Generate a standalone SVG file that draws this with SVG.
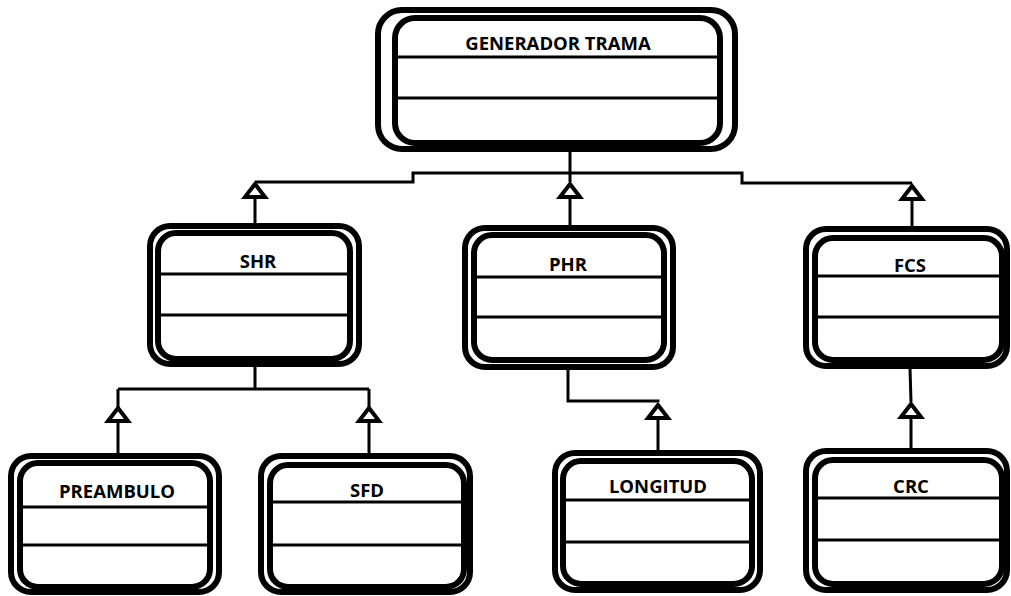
<svg xmlns="http://www.w3.org/2000/svg" xmlns:xlink="http://www.w3.org/1999/xlink" width="1011" height="596" viewBox="0 0 1011 596">
  <style>
    .outer { fill: #fff; stroke: #000; stroke-width: 6; }
    .inner { fill: #fff; stroke: #000; stroke-width: 6; }
    .div { stroke: #000; stroke-width: 3; }
    .wire { fill: none; stroke: #000; stroke-width: 3; }
    .lbl { font-family: "Open Sans", "Liberation Sans", sans-serif; font-weight: bold; font-size: 18.5px; fill: #000; text-anchor: middle; }
  </style>
  <defs>
    <!-- hollow generalization head, apex at origin -->
    <path id="head" d="M0,3 L10,16 L-10,16 Z" fill="#fff" stroke="#000" stroke-width="4"/>
  </defs>

  <rect width="1011" height="596" fill="#fff"/>

  <!-- connectors -->
  <g id="connectors">
    <path class="wire" d="M570,152 V182"/>
    <path class="wire" d="M255,182 H413 V173 H742 V183 H912"/>
    <path class="wire" d="M255,198 V224"/>
    <path class="wire" d="M570,198 V226"/>
    <path class="wire" d="M912,199 V227"/>
    <path class="wire" d="M255,366 V389 M118,389 H369 M118,389 V407 M369,389 V407"/>
    <path class="wire" d="M118,422 V454 M369,422 V454"/>
    <path class="wire" d="M568,369 V401 H658 V402"/>
    <path class="wire" d="M658,418 V451"/>
    <path class="wire" d="M910,368 L911,402"/>
    <path class="wire" d="M911,418 V449"/>
    <use xlink:href="#head" x="255" y="181"/>
    <use xlink:href="#head" x="570" y="181"/>
    <use xlink:href="#head" x="912" y="183"/>
    <use xlink:href="#head" x="118" y="405"/>
    <use xlink:href="#head" x="369" y="405"/>
    <use xlink:href="#head" x="658" y="402"/>
    <use xlink:href="#head" x="911" y="401"/>
  </g>

  <g id="generador-trama">
    <rect class="outer" x="378" y="10" width="357" height="139" rx="24"/>
    <rect class="inner" x="395" y="18" width="325" height="125" rx="20"/>
    <line class="div" x1="395" y1="57" x2="720" y2="57"/>
    <line class="div" x1="395" y1="98" x2="720" y2="98"/>
    <text class="lbl" x="558" y="50">GENERADOR TRAMA</text>
  </g>

  <g id="shr">
    <rect class="outer" x="150" y="226" width="209" height="138" rx="20"/>
    <rect class="inner" x="158" y="233" width="192" height="126" rx="18"/>
    <line class="div" x1="158" y1="274" x2="350" y2="274"/>
    <line class="div" x1="158" y1="315" x2="350" y2="315"/>
    <text class="lbl" x="258" y="268">SHR</text>
  </g>

  <g id="phr">
    <rect class="outer" x="465" y="228" width="208" height="139" rx="20"/>
    <rect class="inner" x="474" y="235" width="190" height="125" rx="18"/>
    <line class="div" x1="474" y1="277" x2="664" y2="277"/>
    <line class="div" x1="474" y1="317" x2="664" y2="317"/>
    <text class="lbl" x="568" y="271">PHR</text>
  </g>

  <g id="fcs">
    <rect class="outer" x="806" y="229" width="201" height="137" rx="20"/>
    <rect class="inner" x="815" y="238" width="187" height="122" rx="18"/>
    <line class="div" x1="815" y1="276" x2="1002" y2="276"/>
    <line class="div" x1="815" y1="317" x2="1002" y2="317"/>
    <text class="lbl" x="910" y="272">FCS</text>
  </g>

  <g id="preambulo">
    <rect class="outer" x="11" y="456" width="208" height="136" rx="20"/>
    <rect class="inner" x="20" y="463" width="190" height="124" rx="18"/>
    <line class="div" x1="20" y1="507" x2="210" y2="507"/>
    <line class="div" x1="20" y1="545" x2="210" y2="545"/>
    <text class="lbl" x="117" y="498">PREAMBULO</text>
  </g>

  <g id="sfd">
    <rect class="outer" x="261" y="456" width="209" height="136" rx="20"/>
    <rect class="inner" x="270" y="465" width="194" height="122" rx="18"/>
    <line class="div" x1="270" y1="502" x2="464" y2="502"/>
    <line class="div" x1="270" y1="545" x2="464" y2="545"/>
    <text class="lbl" x="367" y="497">SFD</text>
  </g>

  <g id="longitud">
    <rect class="outer" x="555" y="453" width="205" height="137" rx="20"/>
    <rect class="inner" x="563" y="461" width="189" height="123" rx="18"/>
    <line class="div" x1="563" y1="500" x2="752" y2="500"/>
    <line class="div" x1="563" y1="542" x2="752" y2="542"/>
    <text class="lbl" x="658" y="493">LONGITUD</text>
  </g>

  <g id="crc">
    <rect class="outer" x="806" y="451" width="201" height="139" rx="20"/>
    <rect class="inner" x="815" y="460" width="187" height="124" rx="18"/>
    <line class="div" x1="815" y1="498" x2="1002" y2="498"/>
    <line class="div" x1="815" y1="540" x2="1002" y2="540"/>
    <text class="lbl" x="911" y="493">CRC</text>
  </g>
</svg>
